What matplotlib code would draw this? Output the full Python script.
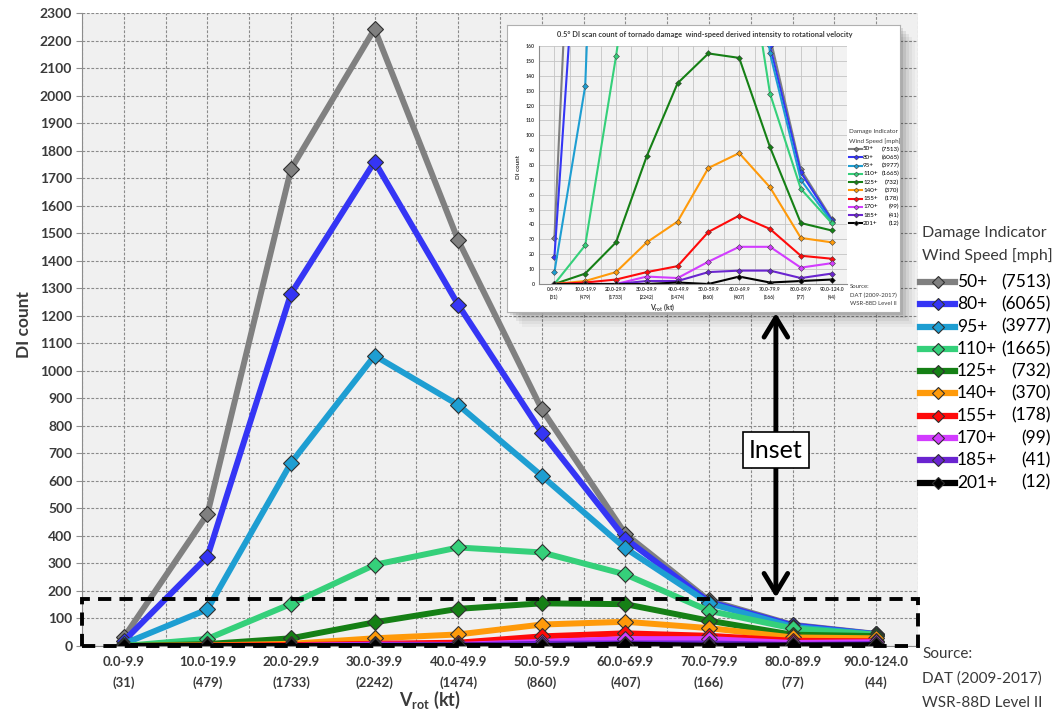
import matplotlib
matplotlib.use('Agg')
import matplotlib.pyplot as plt
from matplotlib.lines import Line2D
from matplotlib.patches import Rectangle

plt.rcParams['font.family'] = ['Lato', 'DejaVu Sans']
plt.rcParams['mathtext.fontset'] = 'custom'
plt.rcParams['mathtext.rm'] = 'Lato'
plt.rcParams['mathtext.bf'] = 'Lato:bold'

# Vrot bins and the number of 0.5 deg scans per bin
bins = ['0.0-9.9', '10.0-19.9', '20.0-29.9', '30.0-39.9', '40.0-49.9',
        '50.0-59.9', '60.0-69.9', '70.0-79.9', '80.0-89.9', '90.0-124.0']
bin_counts = [31, 479, 1733, 2242, 1474, 860, 407, 166, 77, 44]

# DI count per bin, one list per damage-indicator wind speed threshold
di_50 = [31, 479, 1733, 2242, 1474, 860, 407, 166, 77, 44]
di_80 = [18, 324, 1280, 1760, 1240, 775, 390, 160, 75, 43]
di_95 = [8, 133, 665, 1055, 876, 618, 355, 155, 70, 42]
di_110 = [0, 26, 153, 295, 358, 340, 260, 128, 64, 41]
di_125 = [0, 7, 28, 86, 135, 155, 152, 92, 41, 36]
di_140 = [0, 2, 8, 28, 42, 78, 88, 65, 31, 28]
di_155 = [0, 1, 3, 8, 12, 35, 46, 37, 19, 17]
di_170 = [0, 0, 0, 5, 4, 15, 25, 25, 11, 14]
di_185 = [0, 0, 0, 2, 2, 8, 9, 9, 4, 7]
di_201 = [0, 0, 0, 0, 1, 0, 5, 1, 2, 3]

thresholds = ['50+', '80+', '95+', '110+', '125+', '140+', '155+', '170+', '185+', '201+']
totals = [7513, 6065, 3977, 1665, 732, 370, 178, 99, 41, 12]
series = [di_50, di_80, di_95, di_110, di_125, di_140, di_155, di_170, di_185, di_201]
colors = ['#808080', '#3535f5', '#1e9ed2', '#35d07a', '#158015',
          '#ff9a0a', '#ff0a0a', '#d23cff', '#6a24d0', '#000000']

W, H = 1056, 720
TXT = '#3a3a3a'


def fx(px):
    return px / W


def fy(py):
    return 1 - py / H


def style_axes(ax, ymax, ystep, grid_kw, tick_size, label_size, spacing):
    """Category x axis with gridlines at and between the bins"""
    x = range(len(bins))
    ax.set_xlim(-0.5, len(bins) - 0.5)
    ax.set_ylim(0, ymax)
    ax.set_yticks(range(0, ymax + 1, ystep))
    ax.set_xticks(list(x))
    ax.set_xticks([i - 0.5 for i in range(len(bins) + 1)], minor=True)
    ax.set_xticklabels([f'{b}\n({c})' for b, c in zip(bins, bin_counts)],
                       fontsize=label_size, fontweight='bold', color=TXT,
                       linespacing=spacing)
    ax.tick_params(axis='x', which='both', length=0)
    ax.tick_params(axis='y', labelsize=tick_size, colors=TXT, color='#909090')
    for t in ax.get_yticklabels():
        t.set_fontweight('bold')
    ax.grid(True, which='both', **grid_kw)
    ax.set_axisbelow(True)
    for s in ['top', 'right']:
        ax.spines[s].set_visible(False)
    for s in ['left', 'bottom']:
        ax.spines[s].set_color('#8c8c8c')


fig = plt.figure(figsize=(W / 100, H / 100), dpi=100)

# ---- main chart ----
ax = fig.add_axes([fx(82), fy(646), fx(918) - fx(82), fy(13) - fy(646)])
ax.set_facecolor('#f0f0f0')
style_axes(ax, 2300, 100,
           dict(color='#8a8a8a', linestyle=(0, (2.5, 1.5)), linewidth=0.8),
           tick_size=10, label_size=9.5, spacing=1.85)
ax.tick_params(axis='y', length=4, pad=3)
ax.tick_params(axis='x', pad=7)
for vals, c in zip(series, colors):
    ax.plot(range(len(bins)), vals, color=c, lw=4.3, marker='D', ms=8,
            mfc=c, mec='#303030', mew=0.8, solid_joinstyle='round')

fig.text(fx(24), fy(325), 'DI count', rotation=90, ha='center', va='center',
         fontsize=12.5, fontweight='bold', color=TXT)
fig.text(fx(430), fy(700), r'$\mathbf{V_{rot}}$ (kt)', ha='center', va='center',
         fontsize=13, fontweight='bold', color=TXT)

# dashed region shown in the inset
ax.add_patch(Rectangle((-0.5, 0), len(bins), 172, fill=False, ec='black',
                       lw=2.8, ls=(0, (3.4, 2.1)), clip_on=False, zorder=20))
ax.annotate('', xy=(7.8, 176), xytext=(7.8, 1210),
            arrowprops=dict(arrowstyle='<->,head_length=1.4,head_width=0.85',
                            lw=3.5, color='black', shrinkA=0, shrinkB=0),
            zorder=21)
ax.text(7.8, 712, 'Inset', ha='center', va='center', fontsize=18, zorder=22,
        bbox=dict(boxstyle='square,pad=0.25', fc='white', ec='black', lw=1.2))

# main legend, drawn by hand so the totals line up on the right
fig.text(fx(922), fy(233), 'Damage Indicator', fontsize=11.5, color=TXT, va='center')
fig.text(fx(922), fy(256), 'Wind Speed [mph]', fontsize=11.5, color=TXT, va='center')
for i, (lab, tot, c) in enumerate(zip(thresholds, totals, colors)):
    y = fy(282 + 22.3 * i)
    fig.add_artist(Line2D([fx(920), fx(955)], [y, y], color=c, lw=4.5,
                          transform=fig.transFigure))
    fig.add_artist(Line2D([fx(937.5)], [y], marker='D', ms=6, mfc=c,
                          mec='#303030', mew=0.8, transform=fig.transFigure))
    fig.text(fx(957), y, lab, fontsize=12.5, color='black', va='center')
    fig.text(fx(1051), y, f'({tot})', fontsize=12.5, color='black',
             va='center', ha='right')

for i, line in enumerate(['Source:', 'DAT (2009-2017)', 'WSR-88D Level II']):
    fig.text(fx(922), fy(654 + 24.5 * i), line, fontsize=11, color=TXT, va='center')

# ---- inset panel with shadow ----
for k, a in enumerate([0.10, 0.08, 0.06, 0.04, 0.03]):
    d = 3 + 3 * k
    ax.add_patch(Rectangle((fx(507 + d), fy(312 + d)), fx(393), 287 / H,
                           transform=fig.transFigure, fc='black', alpha=a,
                           ec='none', clip_on=False, zorder=30))
panel = fig.add_axes([fx(507), fy(312), fx(393), 287 / H], zorder=3)
panel.set_facecolor('white')
panel.set_xticks([])
panel.set_yticks([])
for s in panel.spines.values():
    s.set_color('#b0b0b0')
    s.set_linewidth(0.8)

ins = fig.add_axes([fx(539), fy(284), fx(847) - fx(539), fy(46) - fy(284)], zorder=4)
ins.set_facecolor('#f2f2f2')
style_axes(ins, 160, 10, dict(color='#c4c4c4', linestyle='-', linewidth=0.6),
           tick_size=3.8, label_size=3.6, spacing=1.6)
ins.tick_params(axis='y', length=0, pad=3)
ins.tick_params(axis='x', pad=2)
for vals, c in zip(series, colors):
    ins.plot(range(len(bins)), vals, color=c, lw=1.5, marker='D', ms=3,
             mfc=c, mec='#404040', mew=0.4)

fig.text(fx(705), fy(35), '0.5\u00b0 DI scan count of tornado damage  wind-speed '
         'derived intensity to rotational velocity', ha='center', va='center',
         fontsize=5.3, fontweight='bold', color=TXT, zorder=5)
fig.text(fx(519), fy(167), 'DI count', rotation=90, ha='center', va='center',
         fontsize=4.5, fontweight='bold', color=TXT, zorder=5)
fig.text(fx(663), fy(307), r'$\mathbf{V_{rot}}$ (kt)', ha='center', va='center',
         fontsize=5, fontweight='bold', color=TXT, zorder=5)

fig.text(fx(849), fy(132), 'Damage Indicator', fontsize=4.5, color=TXT,
         va='center', zorder=5)
fig.text(fx(849), fy(141), 'Wind Speed [mph]', fontsize=4.5, color=TXT,
         va='center', zorder=5)
for i, (lab, tot, c) in enumerate(zip(thresholds, totals, colors)):
    y = fy(149 + 8.25 * i)
    fig.add_artist(Line2D([fx(849), fx(862)], [y, y], color=c, lw=1.5,
                          transform=fig.transFigure, zorder=5))
    fig.add_artist(Line2D([fx(855.5)], [y], marker='D', ms=2.5, mfc=c,
                          mec='#404040', mew=0.4, transform=fig.transFigure,
                          zorder=5))
    fig.text(fx(863), y, lab, fontsize=4.5, color='black', va='center', zorder=5)
    fig.text(fx(899), y, f'({tot})', fontsize=4.5, color='black', va='center',
             ha='right', zorder=5)

for i, line in enumerate(['Source:', 'DAT (2009-2017)', 'WSR-88D Level II']):
    fig.text(fx(850), fy(287 + 8 * i), line, fontsize=4.3, color=TXT,
             va='center', zorder=5)

fig.savefig('out.png', dpi=100)
